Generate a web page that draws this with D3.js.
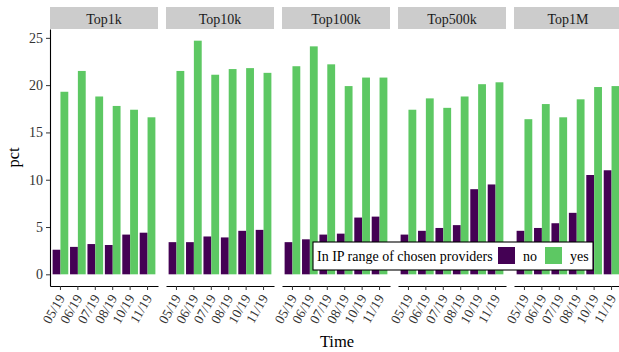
<!DOCTYPE html>
<html>
<head>
<meta charset="utf-8">
<script src="https://cdn.jsdelivr.net/npm/d3@7"></script>
<style>
  html, body { margin: 0; padding: 0; background: #fff; }
  svg { display: block; }
</style>
</head>
<body>
<svg id="chart" width="619" height="352"></svg>
<script>
// Share of sites per ranking tier, split by whether the address is in the chosen providers' IP ranges
const tiers = ["Top1k", "Top10k", "Top100k", "Top500k", "Top1M"];
const months = ["05/19", "06/19", "07/19", "08/19", "10/19", "11/19"];
const statuses = ["no", "yes"];
const yTicks = [0, 5, 10, 15, 20, 25];

// one row per tier, one value per month
const pctNo = [
  [2.6, 2.9, 3.2, 3.1, 4.2, 4.4],
  [3.4, 3.4, 4.0, 3.9, 4.6, 4.7],
  [3.4, 3.7, 4.2, 4.3, 6.0, 6.1],
  [4.2, 4.6, 4.9, 5.2, 9.0, 9.5],
  [4.6, 4.9, 5.4, 6.5, 10.5, 11.0]
];
const pctYes = [
  [19.3, 21.5, 18.8, 17.8, 17.4, 16.6],
  [21.5, 24.7, 21.1, 21.7, 21.8, 21.3],
  [22.0, 24.1, 22.2, 19.9, 20.8, 20.8],
  [17.4, 18.6, 17.6, 18.8, 20.1, 20.3],
  [16.4, 18.0, 16.6, 18.5, 19.8, 19.9]
];

const colors = { no: "#440154", yes: "#5DC863" };
const SERIF = "'Liberation Serif', 'DejaVu Serif', serif";

const svg = d3.select("#chart");

// facet geometry
const panelLeft = 50, panelW = 108, panelGap = 8;
const stripTop = 7, stripBottom = 29, plotBottom = 286;

const allVals = pctNo.flat().concat(pctYes.flat());
const yMax = d3.max(allVals);
const y = d3.scaleLinear()
  .domain([-0.05 * yMax, yMax * 1.05])
  .range([plotBottom, stripBottom]);

const x = d3.scaleBand()
  .domain(months)
  .range([0, panelW])
  .paddingInner(0.1)
  .paddingOuter(0.15);

const xSub = d3.scaleBand()
  .domain(statuses)
  .range([0, x.bandwidth()]);

tiers.forEach((tier, i) => {
  const px = panelLeft + i * (panelW + panelGap);
  const g = svg.append("g").attr("transform", `translate(${px},0)`);

  // strip
  g.append("rect")
    .attr("x", 0).attr("y", stripTop)
    .attr("width", panelW).attr("height", stripBottom - stripTop)
    .attr("fill", "#cccccc");
  g.append("text")
    .attr("x", panelW / 2).attr("y", 23.5)
    .attr("text-anchor", "middle")
    .style("font-family", SERIF)
    .style("font-size", "14px")
    .attr("fill", "#1a1a1a")
    .text(tier);

  // bars
  const rows = months.map((m, j) => ({ month: m, no: pctNo[i][j], yes: pctYes[i][j] }));
  const grp = g.selectAll("g.month").data(rows).join("g")
    .attr("class", "month")
    .attr("transform", d => `translate(${x(d.month)},0)`);
  grp.selectAll("rect")
    .data(d => statuses.map(s => ({ status: s, value: d[s] })))
    .join("rect")
    .attr("x", d => xSub(d.status))
    .attr("width", xSub.bandwidth())
    .attr("y", d => y(d.value))
    .attr("height", d => y(0) - y(d.value))
    .attr("fill", d => colors[d.status]);

  // x axis
  const xAxis = g.append("g")
    .attr("transform", `translate(0,${plotBottom})`)
    .call(d3.axisBottom(x).tickSize(4).tickPadding(2).tickSizeOuter(0));
  xAxis.select(".domain").attr("stroke", "#000").attr("stroke-width", 1.1);
  xAxis.selectAll(".tick line").attr("stroke", "#333").attr("stroke-width", 1);
  xAxis.selectAll(".tick text")
    .style("font-family", SERIF)
    .style("font-size", "13.5px")
    .attr("fill", "#333")
    .attr("text-anchor", "end")
    .attr("dy", null)
    .attr("y", 0)
    .attr("transform", "translate(5,12) rotate(-60)");

  // y axis on the first facet only
  if (i === 0) {
    const yAxis = g.append("g")
      .call(d3.axisLeft(y).tickValues(yTicks).tickSize(4).tickPadding(3).tickSizeOuter(0));
    yAxis.select(".domain").attr("stroke", "#000").attr("stroke-width", 1.1);
    yAxis.selectAll(".tick line").attr("stroke", "#333");
    yAxis.selectAll(".tick text")
      .style("font-family", SERIF)
      .style("font-size", "14px")
      .attr("fill", "#333");
  }
});

// axis titles
svg.append("text")
  .attr("x", 337).attr("y", 347)
  .attr("text-anchor", "middle")
  .style("font-family", SERIF)
  .style("font-size", "16.5px")
  .attr("fill", "#000")
  .text("Time");
svg.append("text")
  .attr("transform", `translate(19,${(stripBottom + plotBottom) / 2}) rotate(-90)`)
  .attr("text-anchor", "middle")
  .style("font-family", SERIF)
  .style("font-size", "16.5px")
  .attr("fill", "#000")
  .text("pct");

// legend
const leg = svg.append("g").attr("transform", "translate(313,242)");
leg.append("rect")
  .attr("x", 0).attr("y", 0).attr("width", 280).attr("height", 28)
  .attr("fill", "#fff").attr("stroke", "#000").attr("stroke-width", 1.1);
leg.append("text")
  .attr("x", 4).attr("y", 19)
  .style("font-family", SERIF)
  .style("font-size", "14px")
  .attr("fill", "#000")
  .text("In IP range of chosen providers");
const keyX = [185, 232];
statuses.forEach((s, k) => {
  leg.append("rect")
    .attr("x", keyX[k]).attr("y", 5).attr("width", 17).attr("height", 17)
    .attr("fill", colors[s]);
  leg.append("text")
    .attr("x", keyX[k] + 25).attr("y", 19)
    .style("font-family", SERIF)
    .style("font-size", "14px")
    .attr("fill", "#000")
    .text(s);
});
</script>
</body>
</html>
